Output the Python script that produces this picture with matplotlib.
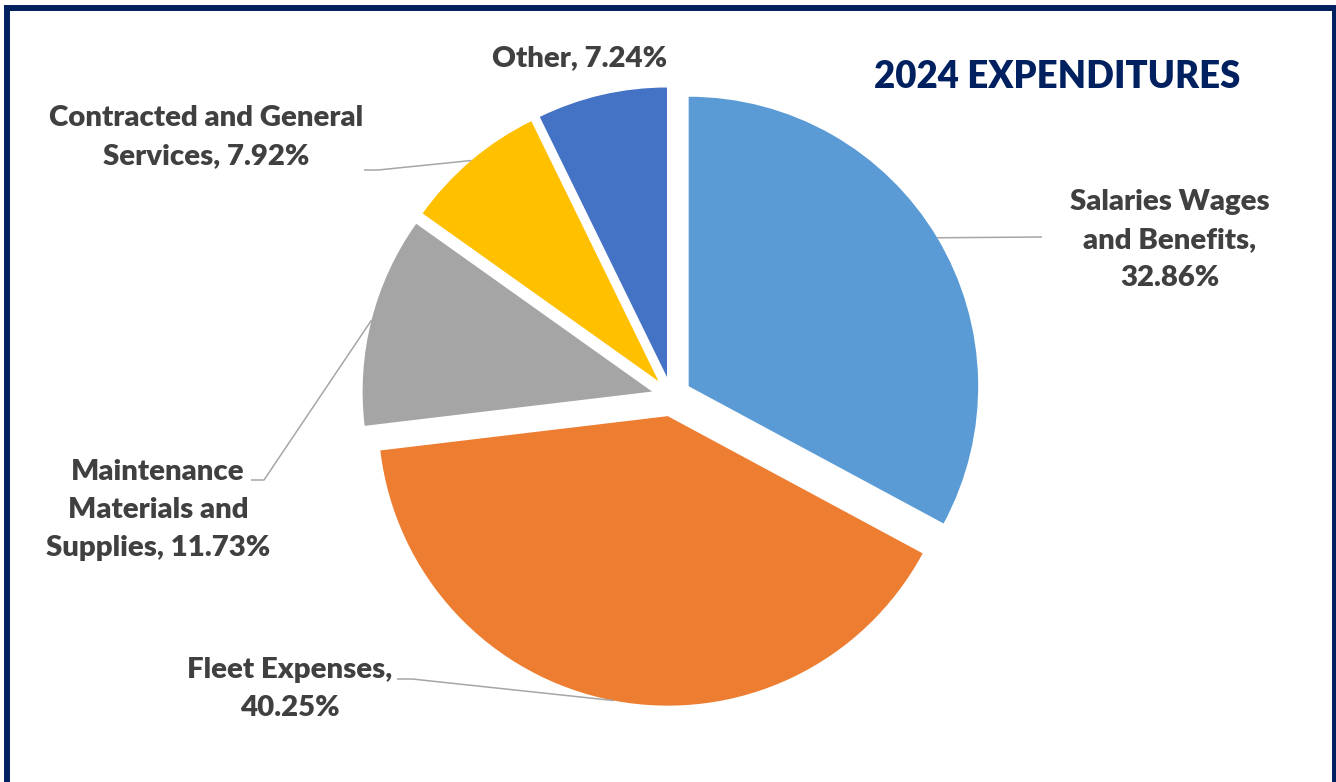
import matplotlib.pyplot as plt
from matplotlib.patches import Rectangle
import numpy as np

W, H = 1336, 782

# # Data
categories = ['Salaries Wages\nand Benefits,', 'Fleet Expenses,',
              'Maintenance\nMaterials and\nSupplies,',
              'Contracted and General\nServices,', 'Other,']
shares = [32.86, 40.25, 11.73, 7.92, 7.24]
separators = ['\n', '\n', ' ', ' ', ' ']  # how the % joins the name
colors = ['#5B9BD5', '#ED7D31', '#A5A5A5', '#FFC000', '#4472C4']

# label centres and leader elbows, in image pixels (y down)
label_xy = [(1170, 240), (290, 689), (158, 510), (206, 137), (580, 58)]
leader_pts = [
    [(1042, 237)],
    [(412, 679), (397, 679)],
    [(264, 480), (251, 480)],
    [(378, 170), (364, 170)],
    None,
]

TEXT_COLOR = '#404040'
NAVY = '#002060'
FONT = ['Lato', 'DejaVu Sans']

fig = plt.figure(figsize=(W / 100, H / 100), dpi=100)
ax = fig.add_axes([0, 0, 1, 1])

wedges, _ = ax.pie(
    shares, colors=colors, startangle=90, counterclock=False,
    explode=[20] * len(shares), center=(671.5, H - 396.5), radius=289.5,
    wedgeprops=dict(linewidth=0),
)
ax.set_xlim(0, W)
ax.set_ylim(0, H)
ax.set_aspect('equal')
ax.axis('off')

for w, name, sep, val, (lx, ly), pts in zip(wedges, categories, separators, shares, label_xy, leader_pts):
    if pts is not None:
        tm = np.deg2rad((w.theta1 + w.theta2) / 2)
        ex = w.center[0] + w.r * np.cos(tm)
        ey = w.center[1] + w.r * np.sin(tm)
        xs = [ex] + [p[0] for p in pts]
        ys = [ey] + [H - p[1] for p in pts]
        ax.plot(xs, ys, color='#A6A6A6', lw=1.1, solid_capstyle='butt')
    ax.text(lx, H - ly, name + sep + '{:.2f}%'.format(val),
            ha='center', va='center', fontsize=21.2, fontweight='heavy',
            color=TEXT_COLOR, linespacing=1.56, family=FONT)

ax.text(1057, H - 77, '2024 EXPENDITURES', ha='center', va='center',
        fontsize=26.3, fontweight='heavy', color=NAVY, family=FONT)

# frame round the chart (bottom edge is cut off in the original)
ax.add_patch(Rectangle((7, -20), 1328, (H - 8) + 20, fill=False,
                       edgecolor=NAVY, lw=4.3, clip_on=False))

fig.savefig('out.png', dpi=100)
